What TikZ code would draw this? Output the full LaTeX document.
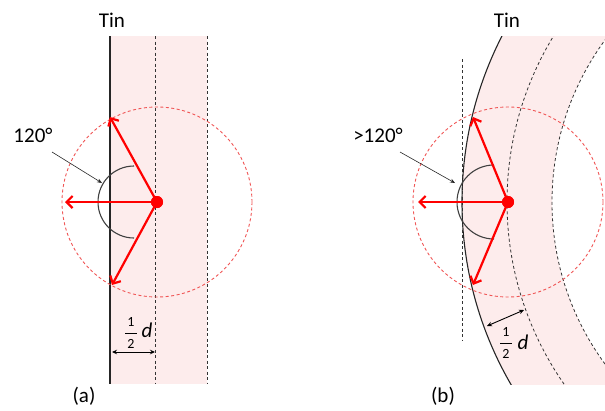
\documentclass[tikz,border=0pt]{standalone}
\usepackage{fontspec}
\setmainfont{Carlito}
\usetikzlibrary{arrows.meta}
\definecolor{pinkfill}{RGB}{253,236,236}
\definecolor{circred}{RGB}{240,85,85}
\begin{document}
\begin{tikzpicture}[x=1pt,y=-1pt,
  font=\fontsize{21}{25}\selectfont,
  redarrow/.style={red, line width=2.2pt, -{Straight Barb[length=6pt,width=12pt]}},
  dashline/.style={black!80, line width=0.8pt, dash pattern=on 3pt off 2.5pt},
  reddash/.style={circred, line width=0.9pt, dash pattern=on 3pt off 2.5pt},
  pointer/.style={black!85, line width=0.6pt, -{Stealth[length=5pt,width=4pt]}},
  dimarrow/.style={black, line width=0.9pt, {Stealth[length=5pt,width=4.5pt]}-{Stealth[length=5pt,width=4.5pt]}},
  anglearc/.style={black!75, line width=1.1pt},
  wall/.style={black!85, line width=1.1pt},
  fracbar/.style={black, line width=0.8pt},
  dot/.style={circle, fill=red, inner sep=0pt, minimum size=12pt},
  lbl/.style={inner sep=0pt},
  small/.style={inner sep=0pt, font=\fontsize{14}{16}\selectfont}]
\useasboundingbox (0,0) rectangle (605,410);

% ---------- panel (a) ----------
\coordinate (aTop) at (110,36);
\coordinate (aBot) at (110,384);
\coordinate (aU) at (110,117);
\coordinate (aL) at (65,202);
\coordinate (aDn) at (112,285);
\coordinate (aP1) at (52,152);
\coordinate (aP2) at (102,183);
\coordinate (aM1) at (112,352);
\coordinate (aM2) at (155,352);
\coordinate (aB1) at (125,333);
\coordinate (aB2) at (137,333);
\fill[pinkfill] (110,36) rectangle (207,384);
\draw[dashline] (155,36) -- (155,384);
\draw[dashline] (207,36) -- (207,384);
\draw[wall] (aTop) -- (aBot);
\draw[reddash] (157,202) circle[radius=95];
\draw[anglearc] (134,166) arc[start angle=270, end angle=90, radius=36];
\node[dot] (aC) at (157,202) {};
\draw[redarrow] (aC.center) -- (aU);
\draw[redarrow] (aC.center) -- (aL);
\draw[redarrow] (aC.center) -- (aDn);
\node[dot] at (aC) {};
\draw[pointer] (aP1) -- (aP2);
\draw[dimarrow] (aM1) -- (aM2);
\node[lbl] (aTin) at (112,20) {Tin};
\node[lbl] (aAng) at (33,135) {120°};
\node[small] (aNum) at (131,322) {1};
\draw[fracbar] (aB1) -- (aB2);
\node[small] (aDen) at (131,344) {2};
\node[lbl] (aD) at (147,330) {\textit{d}};
\node[lbl] (aLab) at (84,396) {(a)};

% ---------- panel (b) ----------
\coordinate (bO) at (826,202);
\coordinate (bU) at (473,117);
\coordinate (bL) at (418,202);
\coordinate (bDn) at (473,285);
\coordinate (bP1) at (400,152);
\coordinate (bP2) at (455,183);
\coordinate (bM1) at (487,326);
\coordinate (bM2) at (524,310);
\coordinate (bV1) at (462,59);
\coordinate (bV2) at (462,341);
\coordinate (bB1) at (500,343);
\coordinate (bB2) at (512,343);
\begin{scope}
  \clip (440,36) rectangle (605,384);
  \fill[pinkfill, even odd rule] (bO) circle[radius=364] (bO) circle[radius=274];
  \draw[dashline] (bO) circle[radius=319];
  \draw[dashline] (bO) circle[radius=274];
  \draw[wall] (bO) circle[radius=364];
\end{scope}
\draw[dashline] (bV1) -- (bV2);
\draw[reddash] (508,202) circle[radius=95];
\draw[anglearc] (494,165) arc[start angle=270, end angle=90, radius=37];
\node[dot] (bC) at (508,202) {};
\draw[redarrow] (bC.center) -- (bU);
\draw[redarrow] (bC.center) -- (bL);
\draw[redarrow] (bC.center) -- (bDn);
\node[dot] at (bC) {};
\draw[pointer] (bP1) -- (bP2);
\draw[dimarrow] (bM1) -- (bM2);
\node[lbl] (bTin) at (507,20) {Tin};
\node[lbl] (bAng) at (378,135) {>120°};
\node[small] (bNum) at (506,332) {1};
\draw[fracbar] (bB1) -- (bB2);
\node[small] (bDen) at (506,354) {2};
\node[lbl] (bD) at (523,342) {\textit{d}};
\node[lbl] (bLab) at (443,396) {(b)};
\end{tikzpicture}
\end{document}
